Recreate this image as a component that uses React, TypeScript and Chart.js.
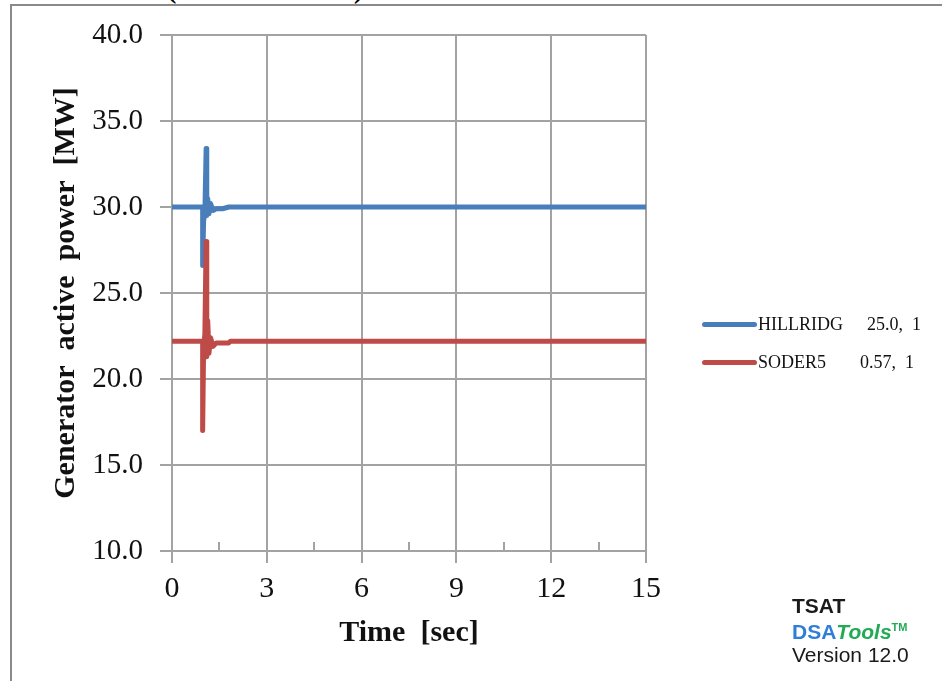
import React, { useEffect, useRef } from "react";
import { Chart, registerables } from "chart.js";

Chart.register(...registerables);

// ---- data ----
const timeSec = [0, 0.97, 0.97, 1.0, 1.04, 1.08, 1.1, 1.13, 1.17, 1.22, 1.3, 1.4, 1.6, 1.8, 1.85, 15];
const hillridgMW = [30.0, 30.0, 26.6, 29.2, 29.6, 33.4, 29.5, 30.5, 29.6, 30.2, 29.8, 29.9, 29.9, 30.0, 30.0, 30.0];
const soder5MW = [22.2, 22.2, 17.0, 21.8, 22.6, 28.0, 21.3, 23.4, 21.5, 22.4, 21.9, 22.1, 22.1, 22.1, 22.2, 22.2];

const seriesNames = ["HILLRIDG", "SODER5"];
const seriesTags = ["25.0,  1", "0.57,  1"];
const seriesColors = ["#4a7ebb", "#be4b48"];

const xMin = 0;
const xMax = 15;
const xStep = 3;
const xMinorTicks = [1.5, 4.5, 7.5, 10.5, 13.5];
const yMin = 10;
const yMax = 40;
const yStep = 5;

const xTitle = "Time  [sec]";
const yTitle = "Generator  active  power  [MW]";

const SERIF = "'Liberation Serif', 'Times New Roman', serif";
const SANS = "'Liberation Sans', Arial, sans-serif";
const GRID = "#a3a3a3";

const minorTickPlugin = {
  id: "minorTicks",
  beforeDatasetsDraw(chart: any) {
    const x = chart.scales.x;
    const bottom = chart.chartArea.bottom;
    const ctx = chart.ctx;
    ctx.save();
    ctx.strokeStyle = GRID;
    ctx.lineWidth = 2;
    for (const v of xMinorTicks) {
      const px = Math.round(x.getPixelForValue(v));
      ctx.beginPath();
      ctx.moveTo(px, bottom);
      ctx.lineTo(px, bottom - 9);
      ctx.stroke();
    }
    ctx.restore();
  },
};

function ChartCanvas() {
  const ref = useRef<HTMLCanvasElement | null>(null);
  useEffect(() => {
    if (!ref.current) return;
    const mk = (ys: number[]) => timeSec.map((t, i) => ({ x: t, y: ys[i] }));
    const chart = new Chart(ref.current, {
      type: "line",
      data: {
        datasets: [
          {
            label: seriesNames[0],
            data: mk(hillridgMW),
            borderColor: seriesColors[0],
            backgroundColor: seriesColors[0],
            borderWidth: 5,
            pointRadius: 0,
            tension: 0,
            borderCapStyle: "round",
            borderJoinStyle: "round",
            order: 1,
          },
          {
            label: seriesNames[1],
            data: mk(soder5MW),
            borderColor: seriesColors[1],
            backgroundColor: seriesColors[1],
            borderWidth: 5,
            pointRadius: 0,
            tension: 0,
            borderCapStyle: "round",
            borderJoinStyle: "round",
            order: 0,
          },
        ],
      },
      options: {
        animation: false,
        responsive: false,
        devicePixelRatio: 1,
        layout: { padding: { left: 20, top: 35, right: 296, bottom: 30 } },
        plugins: { legend: { display: false }, tooltip: { enabled: false } },
        scales: {
          x: {
            type: "linear",
            min: xMin,
            max: xMax,
            afterFit: (s: any) => {
              s.height = 100;
            },
            ticks: {
              stepSize: xStep,
              padding: 8,
              color: "#111",
              font: { family: SERIF, size: 30 },
              maxRotation: 0,
            },
            grid: { color: GRID, lineWidth: 2, tickLength: 12, tickColor: GRID },
            border: { color: GRID, width: 2 },
            title: {
              display: true,
              text: xTitle,
              color: "#111",
              font: { family: SERIF, size: 30, weight: "bold" },
              padding: 0,
            },
          },
          y: {
            type: "linear",
            min: yMin,
            max: yMax,
            afterFit: (s: any) => {
              s.width = 152;
            },
            ticks: {
              stepSize: yStep,
              padding: 17,
              color: "#111",
              font: { family: SERIF, size: 29 },
              callback: (v: any) => Number(v).toFixed(1),
            },
            grid: { color: GRID, lineWidth: 2, tickLength: 12, tickColor: GRID },
            border: { color: GRID, width: 2 },
            title: {
              display: true,
              text: yTitle,
              color: "#111",
              font: { family: SERIF, size: 30, weight: "bold" },
              padding: { top: 28, bottom: 0 },
            },
          },
        },
      },
      plugins: [minorTickPlugin],
    } as any);
    return () => chart.destroy();
  }, []);
  return (
    <canvas
      ref={ref}
      width={942}
      height={681}
      style={{ position: "absolute", left: 0, top: 0, width: 942, height: 681 }}
    />
  );
}

export default function App() {
  const legendRows = [
    { y: 324, nameX: 758, tagX: 867 },
    { y: 362, nameX: 758, tagX: 860 },
  ];
  const badgeLine = { position: "absolute" as const, left: 792, fontFamily: SANS, fontSize: 21, lineHeight: "26px", color: "#1a1a1a", whiteSpace: "pre" as const };
  return (
    <div
      style={{
        position: "fixed",
        left: 0,
        top: 0,
        width: 942,
        height: 681,
        background: "#fff",
        overflow: "hidden",
      }}
    >
      {/* outer frame */}
      <div
        style={{
          position: "absolute",
          left: 10,
          top: 4,
          width: 940,
          height: 690,
          borderTop: "2px solid #8a8a8a",
          borderLeft: "2px solid #8a8a8a",
        }}
      />
      {/* clipped title remnants */}
      <div style={{ position: "absolute", left: 167, top: -25, fontFamily: SERIF, fontWeight: "bold", fontSize: 28, lineHeight: "28px" }}>(</div>
      <div style={{ position: "absolute", left: 354, top: -25, fontFamily: SERIF, fontWeight: "bold", fontSize: 28, lineHeight: "28px" }}>)</div>
      <ChartCanvas />
      {/* legend */}
      {legendRows.map((r, i) => (
        <React.Fragment key={i}>
          <div
            style={{
              position: "absolute",
              left: 702,
              top: r.y - 2.5,
              width: 55,
              height: 5,
              borderRadius: 3,
              background: seriesColors[i],
            }}
          />
          <div
            style={{
              position: "absolute",
              left: r.nameX,
              top: r.y - 11,
              fontFamily: SERIF,
              fontSize: 18,
              lineHeight: "22px",
              color: "#111",
              whiteSpace: "pre",
            }}
          >
            {seriesNames[i]}
          </div>
          <div
            style={{
              position: "absolute",
              left: r.tagX,
              top: r.y - 11,
              fontFamily: SERIF,
              fontSize: 18,
              lineHeight: "22px",
              color: "#111",
              whiteSpace: "pre",
            }}
          >
            {seriesTags[i]}
          </div>
        </React.Fragment>
      ))}
      {/* TSAT badge */}
      <div style={{ ...badgeLine, top: 593, fontWeight: "bold" }}>TSAT</div>
      <div style={{ ...badgeLine, top: 614, fontWeight: "bold" }}>
        <span style={{ color: "#2f7fd8" }}>DSA</span>
        <span style={{ color: "#22aa55", fontStyle: "italic" }}>Tools</span>
        <span style={{ color: "#22aa55", fontSize: 11, verticalAlign: "8px" }}>TM</span>
      </div>
      <div style={{ ...badgeLine, top: 642 }}>Version 12.0</div>
    </div>
  );
}
